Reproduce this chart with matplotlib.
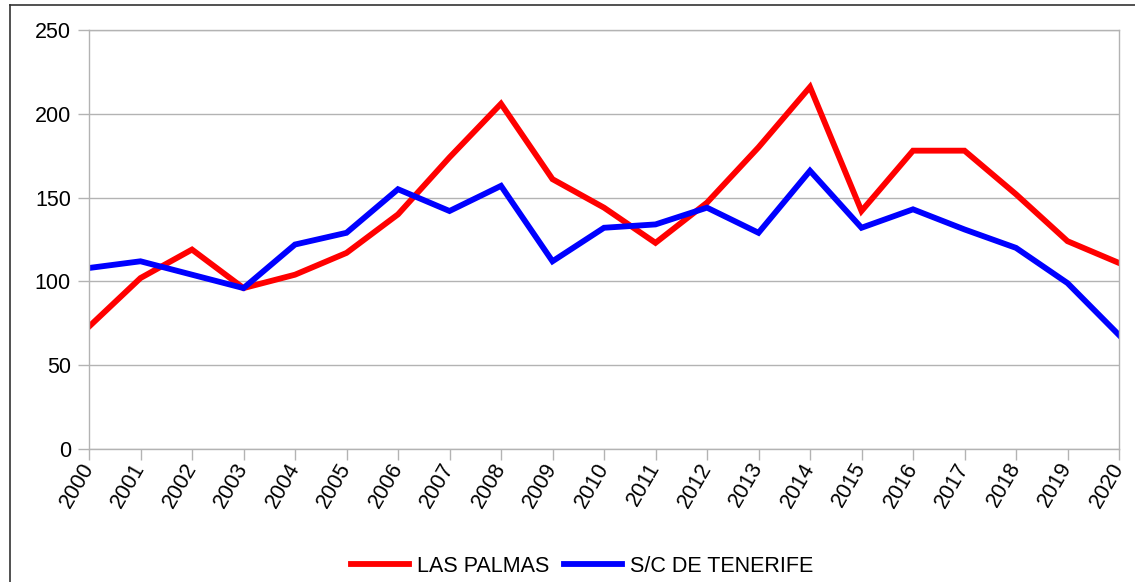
import matplotlib
matplotlib.use("Agg")
import matplotlib.pyplot as plt
from matplotlib.lines import Line2D

plt.rcParams['font.family'] = ['Liberation Sans', 'DejaVu Sans']

years = list(range(2000, 2021))
las_palmas = [73, 102, 119, 96, 104, 117, 140, 174, 206, 161, 144,
              123, 147, 180, 216, 142, 178, 178, 152, 124, 111]
tenerife = [108, 112, 104, 96, 122, 129, 155, 142, 157, 112, 132,
            134, 144, 129, 166, 132, 143, 131, 120, 99, 68]

W, H = 1135, 582
fig = plt.figure(figsize=(W / 100, H / 100), dpi=100)
ax = fig.add_axes([89 / W, 1 - 449 / H, (1119 - 89) / W, (449 - 30) / H])

grid_c = '#b3b3b3'
fs = 15.5
ax.plot(years, las_palmas, color='#ff0000', lw=4.2, label='LAS PALMAS', solid_joinstyle='miter')
ax.plot(years, tenerife, color='#0000ff', lw=4.2, label='S/C DE TENERIFE', solid_joinstyle='miter')

ax.set_xlim(2000, 2020)
ax.set_ylim(0, 250)
ax.set_yticks(range(0, 251, 50))
ax.set_xticks(years)
ax.set_xticklabels([str(y) for y in years], rotation=60, ha='right', va='center',
                   rotation_mode='anchor')
ax.grid(axis='y', color=grid_c, lw=1)
ax.set_axisbelow(True)
for s in ax.spines.values():
    s.set_color(grid_c)
    s.set_linewidth(1)
ax.tick_params(axis='both', length=8, width=1, color=grid_c, labelsize=fs,
               labelcolor='black')
ax.tick_params(axis='x', pad=3)
ax.tick_params(axis='y', pad=5)

ax.legend(loc='center', bbox_to_anchor=(582 / W, 1 - 566 / H), bbox_transform=fig.transFigure,
          ncol=2, frameon=False, fontsize=fs, handlelength=2.7, handletextpad=0.35,
          columnspacing=0.7)

# outer border (left and top)
fig.add_artist(Line2D([10 / W, 10 / W], [0, 1 - 5 / H], color='#333333', lw=1.2,
                      transform=fig.transFigure))
fig.add_artist(Line2D([10 / W, 1], [1 - 5 / H, 1 - 5 / H], color='#333333', lw=1.2,
                      transform=fig.transFigure))

fig.savefig('out.png', dpi=100)
